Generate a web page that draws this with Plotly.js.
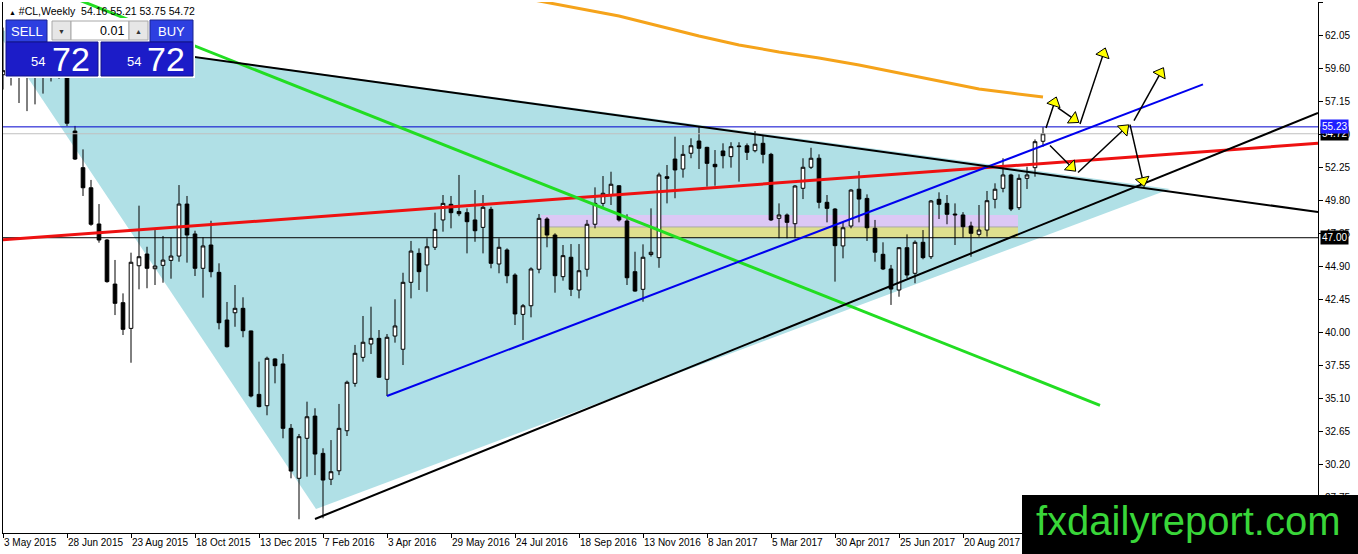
<!DOCTYPE html>
<html>
<head>
<meta charset="utf-8">
<script src="https://cdn.plot.ly/plotly-3.0.1.min.js"></script>
<style>
  html, body { margin: 0; padding: 0; background: #fff; }
  #chart { width: 1358px; height: 554px; }
</style>
</head>
<body>
<div id="chart"></div>
<script>
// Weekly #CL bars, first bar opens the week of 3 May 2015
const firstWeek = '2015-05-03';

const barOpen = [
  59.10, 59.40, 59.70, 60.30, 59.30, 60.00, 59.60, 59.70, 59.60, 54.92,
  52.20, 50.71, 48.02, 46.83, 43.56, 42.18, 40.27, 44.92, 45.79, 44.70,
  44.95, 45.32, 45.64, 49.50, 47.28, 44.73, 46.46, 44.43, 40.89, 41.43,
  41.76, 40.08, 35.37, 34.53, 38.00, 37.63, 32.85, 29.14, 32.11, 33.76,
  30.99, 29.07, 29.70, 32.67, 36.19, 38.12, 39.11, 39.53, 36.49, 39.70,
  38.72, 43.69, 45.84, 44.98, 46.29, 48.32, 49.48, 48.95, 48.86, 48.32,
  47.77, 49.11, 45.05, 46.09, 44.23, 41.31, 41.95, 44.66, 48.39, 47.20,
  44.11, 45.55, 43.12, 44.66, 48.00, 49.55, 50.17, 50.86, 48.24, 44.48,
  43.17, 45.75, 45.52, 51.53, 52.84, 52.10, 53.27, 54.18, 53.71, 52.45,
  53.44, 53.02, 53.76, 53.83, 53.46, 54.01, 53.19, 48.44, 48.69, 48.04,
  50.67, 52.23, 52.90, 49.63, 49.13, 46.39, 47.87, 50.60, 49.92, 47.70,
  45.77, 44.68, 43.12, 46.26, 44.36, 46.66, 45.59, 49.85, 49.55, 48.76,
  48.69, 47.87, 47.25, 47.57, 49.85, 50.67, 51.66, 49.23, 51.41, 52.20,
  54.16
];
const barHigh = [
  62.60, 60.70, 60.50, 60.90, 60.90, 61.50, 61.00, 60.30, 60.00, 55.30,
  53.56, 51.29, 49.50, 46.90, 45.35, 42.87, 45.89, 49.38, 46.33, 47.57,
  47.13, 47.03, 50.91, 50.10, 47.52, 47.03, 48.26, 45.10, 42.23, 43.49,
  42.58, 40.10, 37.80, 38.17, 38.05, 38.37, 33.17, 32.43, 34.83, 34.34,
  31.37, 31.98, 34.66, 36.39, 39.04, 41.19, 41.88, 40.15, 39.85, 42.43,
  44.40, 46.76, 46.21, 46.96, 48.86, 50.17, 50.10, 51.66, 49.18, 50.54,
  50.17, 49.30, 46.96, 46.21, 44.36, 42.08, 44.80, 48.76, 48.52, 47.33,
  46.46, 46.53, 46.53, 48.32, 50.74, 51.58, 51.90, 50.90, 48.74, 45.96,
  46.51, 49.18, 51.83, 52.40, 54.50, 53.88, 54.38, 55.24, 53.75, 53.51,
  54.01, 54.09, 54.09, 54.00, 54.92, 54.63, 53.30, 49.55, 48.80, 50.90,
  52.90, 53.68, 53.19, 50.17, 49.20, 48.19, 50.60, 51.95, 50.22, 48.32,
  46.66, 44.98, 46.30, 47.25, 46.80, 47.57, 49.80, 50.37, 50.17, 49.55,
  48.90, 48.19, 49.43, 50.47, 51.04, 52.90, 51.75, 51.71, 52.27, 54.30,
  55.21
];
const barLow = [
  58.00, 58.30, 57.00, 56.40, 56.90, 57.70, 58.60, 58.80, 55.30, 52.77,
  50.10, 47.89, 46.63, 43.66, 41.26, 39.78, 37.72, 43.17, 43.25, 43.49,
  43.66, 43.96, 45.22, 45.15, 44.16, 42.55, 44.06, 40.20, 38.85, 40.39,
  39.61, 35.15, 34.41, 33.82, 36.19, 32.11, 29.14, 26.10, 29.26, 29.38,
  26.17, 28.64, 29.38, 32.28, 35.94, 37.80, 38.37, 36.60, 35.25, 39.21,
  37.55, 42.50, 43.12, 42.99, 46.09, 47.45, 47.70, 48.60, 45.84, 46.70,
  45.84, 44.73, 44.36, 43.62, 40.52, 39.41, 41.09, 44.36, 46.29, 42.92,
  43.81, 42.67, 42.50, 44.11, 47.70, 49.30, 49.43, 48.20, 43.49, 42.99,
  42.25, 45.60, 44.77, 49.55, 49.93, 51.46, 52.90, 52.10, 50.79, 50.86,
  52.15, 52.20, 51.16, 52.77, 53.34, 52.52, 48.24, 46.96, 46.96, 46.96,
  49.87, 52.10, 49.18, 48.14, 43.74, 45.47, 47.70, 48.14, 46.76, 45.22,
  44.60, 42.01, 42.62, 44.00, 43.62, 45.40, 45.42, 48.39, 48.00, 46.46,
  47.00, 45.59, 47.08, 47.08, 49.18, 50.37, 48.98, 49.06, 50.62, 51.53,
  53.75
];
const barClose = [
  59.40, 59.70, 60.30, 59.30, 60.00, 59.60, 59.70, 59.60, 55.50, 52.84,
  50.71, 48.00, 46.83, 43.74, 42.13, 40.20, 45.18, 45.59, 44.73, 44.90,
  45.34, 45.64, 49.50, 47.20, 44.73, 46.39, 44.48, 40.69, 38.91, 41.76,
  40.10, 35.25, 34.46, 38.05, 37.50, 32.85, 29.68, 32.23, 33.71, 30.94,
  29.01, 29.63, 32.85, 36.27, 38.42, 39.24, 39.53, 36.64, 39.61, 40.45,
  43.69, 46.01, 44.48, 46.33, 47.62, 49.55, 48.86, 48.78, 48.19, 47.52,
  49.26, 45.10, 46.29, 44.18, 41.34, 41.95, 44.68, 48.44, 47.20, 44.18,
  45.67, 43.17, 44.55, 48.00, 49.55, 50.30, 50.97, 48.32, 44.03, 43.04,
  45.55, 45.92, 51.66, 51.41, 52.03, 53.19, 53.83, 53.64, 52.52, 52.27,
  53.09, 53.76, 53.80, 53.34, 53.94, 53.19, 48.32, 48.69, 48.14, 50.84,
  52.23, 52.90, 49.63, 49.18, 46.41, 47.74, 50.54, 49.87, 47.74, 45.92,
  44.68, 43.19, 46.26, 44.23, 46.66, 45.52, 49.73, 49.48, 48.74, 48.70,
  47.82, 47.33, 47.57, 49.75, 50.60, 51.66, 49.13, 51.41, 51.66, 54.13,
  54.72
];

// moving average (orange), read at some bars
const maBar   = [65, 67, 72, 77, 82, 87, 92, 97, 102, 107, 112, 117, 122, 126, 130];
const maValue = [64.80, 64.57, 64.05, 63.46, 62.72, 61.98, 61.31, 60.79, 60.34, 59.82, 59.23, 58.63, 58.04, 57.74, 57.45];

// date labels on the time axis (bar indices), every 8 weeks
const labelBars = [0, 8, 16, 24, 32, 40, 48, 56, 64, 72, 80, 88, 96, 104, 112, 120];

// drawn objects, [bar index, price]
const triangleBar   = [-0.925, 39.125, 145.875];
const trianglePrice = [62.46, 26.86, 50.62];
const upperLineBar   = [7.125, 164.375];
const upperLinePrice = [61.80, 48.91];
const lowerLineBar   = [39, 164.375];
const lowerLinePrice = [26.12, 56.26];
const blueLineBar    = [48, 150];
const blueLinePrice  = [35.25, 58.38];
const redLineBar     = [-0.375, 164.375];
const redLinePrice   = [46.83, 54.01];
const greenLineBar   = [7.125, 137.125];
const greenLinePrice = [65.21, 34.56];
const zoneBar   = [67.25, 126.875];
const pinkZone  = [47.80, 48.69];
const yellowZone = [47.00, 47.80];
const levelBlue = 55.23;
const levelBid = 54.72;
const levelSupport = 47.00;

const arrowTailBar   = [130.375, 131.875, 134.625, 130.875, 134.375, 140.875, 141.375];
const arrowTailPrice = [55.15, 56.64, 55.45, 53.85, 51.84, 55.40, 55.70];
const arrowHeadBar   = [131.625, 134.375, 137.75, 134.0, 140.625, 142.625, 145.0];
const arrowHeadPrice = [57.38, 55.60, 61.02, 51.99, 55.33, 50.87, 59.56];

// page geometry
const W = 1358, H = 554;
const M = { l: 3, r: 40, t: 2, b: 21 };
const pw = W - M.l - M.r, ph = H - M.t - M.b;
const barRange = [0, 164.375];
const priceRange = [25.08, 64.50];
const FONT = '"Liberation Sans", Arial, sans-serif';

const WEEK = 7 * 24 * 3600 * 1000;
const t0 = Date.parse(firstWeek + 'T00:00:00Z');
function weekDate(i) {
    return new Date(t0 + i * WEEK).toISOString().replace('T', ' ').replace('Z', '');
}
// date form usable inside a shape path
function pathDate(i) { return weekDate(i).replace(' ', '_'); }
// pixel -> paper for decorations
function px(x) { return (x - M.l) / pw; }
function py(y) { return (H - M.b - y) / ph; }

const pxPerBar = pw / (barRange[1] - barRange[0]);
const pxPerPrice = ph / (priceRange[1] - priceRange[0]);

function lineTrace(bars, prices, color, width) {
    return {
        x: bars.map(weekDate), y: prices, type: 'scatter', mode: 'lines',
        line: { color: color, width: width }, hoverinfo: 'skip', showlegend: false
    };
}
function levelTrace(price, color) {
    return lineTrace([-1, 166], [price, price], color, 1);
}

const traces = [];
traces.push({
    type: 'candlestick',
    x: barOpen.map((_, i) => weekDate(i)),
    open: barOpen, high: barHigh, low: barLow, close: barClose,
    increasing: { line: { color: '#000', width: 1 }, fillcolor: '#ffffff' },
    decreasing: { line: { color: '#000', width: 1 }, fillcolor: '#000000' },
    whiskerwidth: 0, hoverinfo: 'skip', showlegend: false
});

traces.push(levelTrace(levelSupport, '#000000'));
traces.push(levelTrace(levelBid, '#c0c0c0'));
traces.push(levelTrace(levelBlue, '#0000cd'));
traces.push(lineTrace(maBar, maValue, '#f5a31a', 3));
traces.push(lineTrace(redLineBar, redLinePrice, '#ee1111', 3));
traces.push(lineTrace(greenLineBar, greenLinePrice, '#22dd22', 3));
traces.push(lineTrace(blueLineBar, blueLinePrice, '#0000ee', 2));
traces.push(lineTrace(upperLineBar, upperLinePrice, '#000000', 2));
traces.push(lineTrace(lowerLineBar, lowerLinePrice, '#000000', 2));

// arrows: black shaft + yellow head
const shaftX = [], shaftY = [], headX = [], headY = [], headAngle = [];
arrowTailBar.forEach((tb, k) => {
    shaftX.push(weekDate(tb), weekDate(arrowHeadBar[k]), null);
    shaftY.push(arrowTailPrice[k], arrowHeadPrice[k], null);
    const dx = (arrowHeadBar[k] - tb) * pxPerBar;
    const dy = (arrowHeadPrice[k] - arrowTailPrice[k]) * pxPerPrice;
    const len = Math.hypot(dx, dy);
    const ux = dx / len, uy = dy / len;
    headAngle.push(Math.atan2(ux, uy) * 180 / Math.PI);
    headX.push(weekDate(arrowHeadBar[k] - 5 * ux / pxPerBar));
    headY.push(arrowHeadPrice[k] - 5 * uy / pxPerPrice);
});
traces.push({
    x: shaftX, y: shaftY, type: 'scatter', mode: 'lines',
    line: { color: '#000', width: 1.5 }, hoverinfo: 'skip', showlegend: false
});
traces.push({
    x: headX, y: headY, type: 'scatter', mode: 'markers',
    marker: { symbol: 'triangle-up', size: 12, angle: headAngle, color: '#ffff00',
              line: { color: '#000', width: 1 } },
    hoverinfo: 'skip', showlegend: false
});

// background objects (under the candles)
const triPath = 'M ' + triangleBar.map((b, k) => pathDate(b) + ',' + trianglePrice[k]).join(' L ') + ' Z';
const shapes = [
    { type: 'path', xref: 'x', yref: 'y', layer: 'below', path: triPath,
      fillcolor: '#b0e0e6', line: { width: 0 } },
    { type: 'rect', xref: 'x', yref: 'y', layer: 'below',
      x0: weekDate(zoneBar[0]), x1: weekDate(zoneBar[1]), y0: pinkZone[0], y1: pinkZone[1],
      fillcolor: '#dcc8f5', line: { width: 0 } },
    { type: 'rect', xref: 'x', yref: 'y', layer: 'below',
      x0: weekDate(zoneBar[0]), x1: weekDate(zoneBar[1]), y0: yellowZone[0], y1: yellowZone[1],
      fillcolor: '#dedf8e', line: { width: 0 } },
    { type: 'line', xref: 'x', yref: 'y', layer: 'below',
      x0: weekDate(zoneBar[0]), x1: weekDate(zoneBar[1]), y0: pinkZone[0], y1: pinkZone[0],
      line: { color: '#a8a8a8', width: 1 } }
];

// one-click trading panel + watermark
function rect(x0, y0, x1, y1, fill, line) {
    return {
        type: 'rect', xref: 'paper', yref: 'paper', layer: 'above',
        x0: px(x0), x1: px(x1), y0: py(y0), y1: py(y1),
        fillcolor: fill, line: line ? { color: line, width: 1 } : { width: 0 }
    };
}
shapes.push(
    rect(5, 18, 195, 78, '#ffffff'),
    rect(6, 20, 47, 42, '#2d3fe0', '#1a2490'),
    rect(52, 21, 71, 40, '#e6e6e6', '#a8a8a8'),
    rect(71, 21, 129, 40, '#ffffff', '#a8a8a8'),
    rect(129, 21, 148, 40, '#e6e6e6', '#a8a8a8'),
    rect(150, 20, 193, 42, '#2d3fe0', '#1a2490'),
    rect(6, 42, 98, 76, '#1c1cc8', '#10108a'),
    rect(101, 42, 193, 76, '#1c1cc8', '#10108a'),
    rect(1022, 495, 1360, 556, '#000000')
);

function label(x, y, text, size, color, anchor) {
    return {
        xref: 'paper', yref: 'paper', x: px(x), y: py(y), text: text,
        xanchor: anchor || 'center', yanchor: 'middle', showarrow: false,
        font: { family: FONT, size: size, color: color }
    };
}
function priceTag(price, text, bg) {
    return {
        xref: 'paper', yref: 'y', x: 1 + 2 / pw, y: price, text: text,
        xanchor: 'left', yanchor: 'middle', showarrow: false, bgcolor: bg,
        borderpad: 1, font: { family: FONT, size: 10, color: '#ffffff' }
    };
}
const annotations = [
    label(7, 11, '<span style="font-size:7px">▲</span> #CL,Weekly\u00a0 54.16 55.21 53.75 54.72', 10.5, '#000', 'left'),
    label(27, 31, 'SELL', 13, '#ffffff'),
    label(61.5, 31, '▼', 7, '#333333'),
    label(126, 31, '0.01', 12.5, '#000000', 'right'),
    label(138.5, 31, '▲', 7, '#333333'),
    label(171, 31, 'BUY', 13, '#ffffff'),
    label(38, 62, '54', 13, '#ffffff'),
    label(71, 59, '72', 34, '#ffffff'),
    label(134, 62, '54', 13, '#ffffff'),
    label(166, 59, '72', 34, '#ffffff'),
    priceTag(levelSupport, '47.00', '#000000'),
    priceTag(levelBid, '54.72', '#000000'),
    priceTag(levelBlue, '55.23', '#1f1fff'),
    label(1188, 521, 'fxdailyreport.com', 40, '#39d639')
];

const layout = {
    width: W, height: H,
    margin: M,
    paper_bgcolor: '#ffffff', plot_bgcolor: '#ffffff',
    showlegend: false,
    boxgap: 0.35,
    font: { family: FONT, size: 10, color: '#000' },
    xaxis: {
        type: 'date',
        range: [weekDate(barRange[0]), weekDate(barRange[1])],
        tickmode: 'array', tickvals: labelBars.map(weekDate), tickformat: '%-d %b %Y',
        ticks: 'outside', ticklen: 4, tickcolor: '#000', tickangle: 0,
        ticklabelposition: 'outside right',
        tickfont: { family: FONT, size: 10, color: '#000' },
        showline: true, linecolor: '#000', linewidth: 1,
        showgrid: false, zeroline: false,
        rangeslider: { visible: false }, fixedrange: true
    },
    yaxis: {
        side: 'right', range: priceRange,
        tick0: 27.75, dtick: 2.45, tickformat: '.2f',
        ticks: 'outside', ticklen: 4, tickcolor: '#000',
        tickfont: { family: FONT, size: 10, color: '#000' },
        showline: true, mirror: true, linecolor: '#000', linewidth: 1,
        showgrid: false, zeroline: false, fixedrange: true
    },
    shapes: shapes,
    annotations: annotations
};

Plotly.newPlot('chart', traces, layout, { displayModeBar: false, staticPlot: true });
</script>
</body>
</html>
